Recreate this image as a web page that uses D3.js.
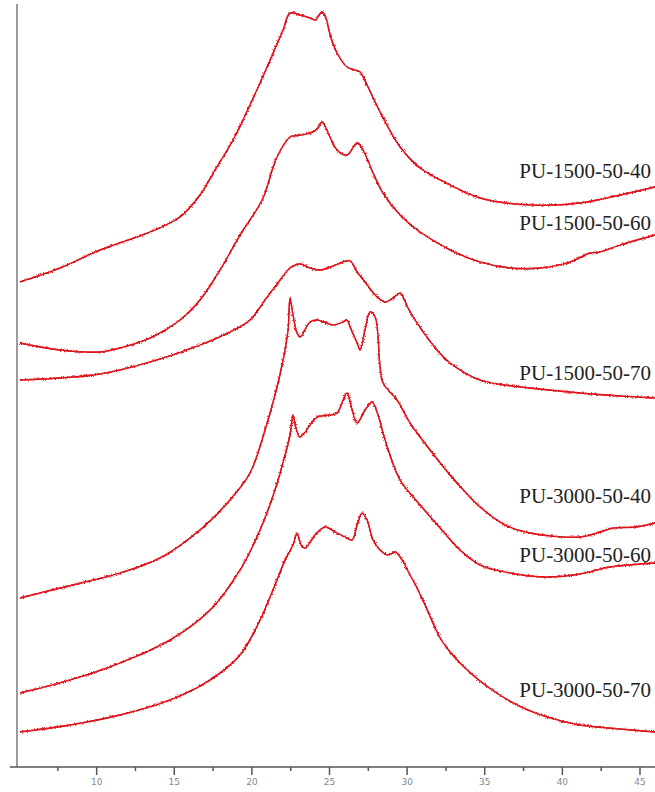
<!DOCTYPE html>
<html>
<head>
<meta charset="utf-8">
<script src="https://cdn.jsdelivr.net/npm/d3@7"></script>
<style>
  html, body { margin: 0; padding: 0; background: #fff; }
  svg { display: block; }
</style>
</head>
<body>
<svg id="chart" width="655" height="792"></svg>
<script>
// XRD patterns of the PU samples, stacked vertically (2θ in degrees, intensity in counts incl. offset)
const sampleNames = ["PU-1500-50-40", "PU-1500-50-60", "PU-1500-50-70",
                     "PU-3000-50-40", "PU-3000-50-60", "PU-3000-50-70"];

const pu1500_40 = [
  [5.09,4850],[7.67,4990],[10.25,5170],[13.47,5350],[15.40,5500],[16.69,5720],[17.66,5970],
  [18.82,6270],[19.91,6620],[21.01,7000],[22.04,7370],[22.49,7540],[23.13,7520],[23.78,7490],
  [24.10,7470],[24.55,7550],[24.81,7490],[25.07,7320],[25.52,7140],[26.16,7000],[26.68,6970],
  [27.00,6950],[27.45,6820],[28.29,6550],[29.58,6200],[30.87,5990],[32.80,5820],[34.73,5690],
  [37.95,5620],[41.18,5640],[43.75,5720],[46.01,5800]
];
const pu1500_60 = [
  [5.09,4240],[7.67,4170],[10.25,4150],[11.54,4190],[13.47,4290],[15.40,4470],[16.69,4670],
  [17.98,4970],[19.27,5320],[20.69,5670],[21.65,6100],[22.49,6300],[23.13,6320],[23.97,6350],
  [24.29,6390],[24.55,6450],[24.94,6340],[25.52,6170],[26.16,6120],[26.81,6240],[27.19,6170],
  [27.84,5940],[28.48,5740],[29.58,5520],[30.87,5350],[32.80,5170],[34.73,5050],[36.67,4990],
  [38.60,4990],[40.53,5050],[41.82,5140],[42.46,5150],[43.75,5220],[46.01,5320]
];
const pu1500_70 = [
  [5.09,3870],[7.67,3890],[10.25,3930],[13.47,4050],[16.69,4220],[18.62,4350],[19.91,4470],
  [20.88,4670],[21.85,4870],[22.49,4990],[23.13,5030],[23.78,4990],[24.42,4970],[25.26,5010],
  [25.91,5050],[26.36,5060],[26.81,4950],[27.32,4850],[27.97,4720],[28.61,4650],[29.13,4690],
  [29.58,4740],[30.09,4590],[30.67,4440],[31.96,4170],[32.80,4040],[34.73,3870],[37.95,3790],
  [41.18,3740],[43.75,3710],[46.01,3690]
];
const pu3000_40 = [
  [5.09,1690],[7.67,1790],[11.54,1940],[14.11,2090],[16.69,2370],[18.62,2670],[19.91,2940],
  [20.88,3370],[21.52,3720],[22.04,4070],[22.36,4370],[22.49,4690],[22.68,4520],[22.94,4340],
  [23.13,4300],[23.78,4450],[24.23,4470],[25.26,4420],[25.91,4450],[26.16,4470],[26.36,4400],
  [26.81,4240],[27.00,4170],[27.32,4370],[27.64,4550],[27.97,4500],[28.29,4000],[28.48,3840],
  [29.38,3670],[30.22,3440],[31.51,3170],[32.80,2920],[33.77,2750],[34.73,2600],[36.34,2420],
  [37.95,2340],[41.18,2300],[42.46,2350],[43.30,2390],[44.72,2400],[46.01,2440]
];
const pu3000_60 = [
  [5.09,740],[8.31,870],[11.54,1040],[14.76,1270],[17.34,1570],[19.27,1970],[20.56,2370],
  [21.52,2770],[22.17,3120],[22.49,3320],[22.68,3520],[22.87,3390],[23.13,3300],[23.78,3420],
  [24.23,3500],[25.07,3520],[25.52,3540],[25.91,3670],[26.16,3740],[26.49,3570],[26.81,3440],
  [27.32,3570],[27.77,3650],[28.16,3520],[28.61,3270],[29.58,2870],[30.87,2620],[32.16,2390],
  [33.44,2170],[34.73,2020],[36.67,1940],[39.05,1900],[41.18,1930],[43.11,2000],[46.01,2040]
];
const pu3000_70 = [
  [5.09,350],[8.31,420],[11.54,520],[14.76,670],[17.34,870],[19.27,1120],[20.56,1470],
  [21.52,1820],[22.17,2070],[22.68,2220],[22.94,2340],[23.20,2220],[23.46,2190],[24.10,2320],
  [24.75,2400],[25.39,2350],[26.03,2300],[26.49,2270],[26.81,2420],[27.13,2540],[27.45,2470],
  [27.84,2270],[28.29,2170],[28.80,2120],[29.26,2150],[29.71,2070],[30.22,1920],[30.67,1790],
  [31.19,1620],[32.16,1290],[32.80,1150],[33.44,1040],[34.73,860],[36.86,640],[39.05,500],
  [41.18,420],[43.75,380],[46.01,350]
];
const patterns = [pu1500_40, pu1500_60, pu1500_70, pu3000_40, pu3000_60, pu3000_70];

// label anchor: right end (2θ) and baseline (counts)
const labelTheta = 45.75;
const labelCounts = [5890, 5370, 3870, 2640, 2050, 700];

const majorTicks = [10, 15, 20, 25, 30, 35, 40, 45];
const minorTicks = [7.5, 12.5, 17.5, 22.5, 27.5, 32.5, 37.5, 42.5];
const thetaMin = 4.45, thetaMax = 46.0, axisTheta = 4.9;
const countsMax = 7670;

const svg = d3.select("#chart");
const x = d3.scaleLinear().domain([thetaMin, thetaMax]).range([10, 655]);
const y = d3.scaleLinear().domain([0, countsMax]).range([767, 0]);

// noisy-trace look for the measured patterns
const defs = svg.append("defs");
const f = defs.append("filter").attr("id", "grain")
  .attr("x", "-2%").attr("y", "-5%").attr("width", "104%").attr("height", "110%");
f.append("feTurbulence").attr("type", "fractalNoise").attr("baseFrequency", "1.1 0.9")
  .attr("numOctaves", 2).attr("seed", 7).attr("result", "n");
f.append("feDisplacementMap").attr("in", "SourceGraphic").attr("in2", "n")
  .attr("scale", 3.5).attr("xChannelSelector", "R").attr("yChannelSelector", "G");

// vertical axis line
svg.append("line")
  .attr("x1", x(axisTheta)).attr("x2", x(axisTheta))
  .attr("y1", 4).attr("y2", y(0))
  .attr("stroke", "#9a9a9a").attr("stroke-width", 2);

// bottom axis: minor then major ticks
const minorAxis = d3.axisBottom(x).tickValues(minorTicks).tickSize(4).tickFormat("");
const majorAxis = d3.axisBottom(x).tickValues(majorTicks).tickSize(8).tickPadding(4)
  .tickFormat(d3.format("d"));
const gMinor = svg.append("g").attr("transform", `translate(0,${y(0)})`).call(minorAxis);
const gMajor = svg.append("g").attr("transform", `translate(0,${y(0)})`).call(majorAxis);
[gMinor, gMajor].forEach(g => {
  g.select(".domain").attr("stroke", "#555").attr("stroke-width", 1.6);
  g.selectAll(".tick line").attr("stroke", "#555").attr("stroke-width", 1.5);
});
gMinor.select(".domain").remove();
gMajor.select(".domain").attr("d", `M${x(thetaMin)},0H${x(thetaMax)}`);
gMajor.selectAll(".tick text")
  .attr("fill", "#888").attr("font-size", 9)
  .attr("font-family", "DejaVu Sans, sans-serif");

// patterns: a solid trace plus a grainy overlay of the same path
const line = d3.line().x(d => x(d[0])).y(d => y(d[1])).curve(d3.curveCatmullRom.alpha(0.5));
const traces = svg.append("g");
traces.selectAll("path.base").data(patterns).join("path")
  .attr("class", "base")
  .attr("d", line)
  .attr("fill", "none")
  .attr("stroke", "#e8161e")
  .attr("stroke-width", 1.3)
  .attr("stroke-linejoin", "round");
traces.append("g").attr("filter", "url(#grain)")
  .selectAll("path").data(patterns).join("path")
  .attr("d", line)
  .attr("fill", "none")
  .attr("stroke", "#dd121a")
  .attr("stroke-width", 1.5)
  .attr("stroke-linejoin", "round");

// sample labels
svg.append("g").selectAll("text").data(sampleNames).join("text")
  .attr("x", x(labelTheta))
  .attr("y", (d, i) => y(labelCounts[i]))
  .attr("text-anchor", "end")
  .attr("font-family", "Liberation Serif, Times New Roman, serif")
  .attr("font-size", 21)
  .attr("fill", "#222")
  .text(d => d);
</script>
</body>
</html>
